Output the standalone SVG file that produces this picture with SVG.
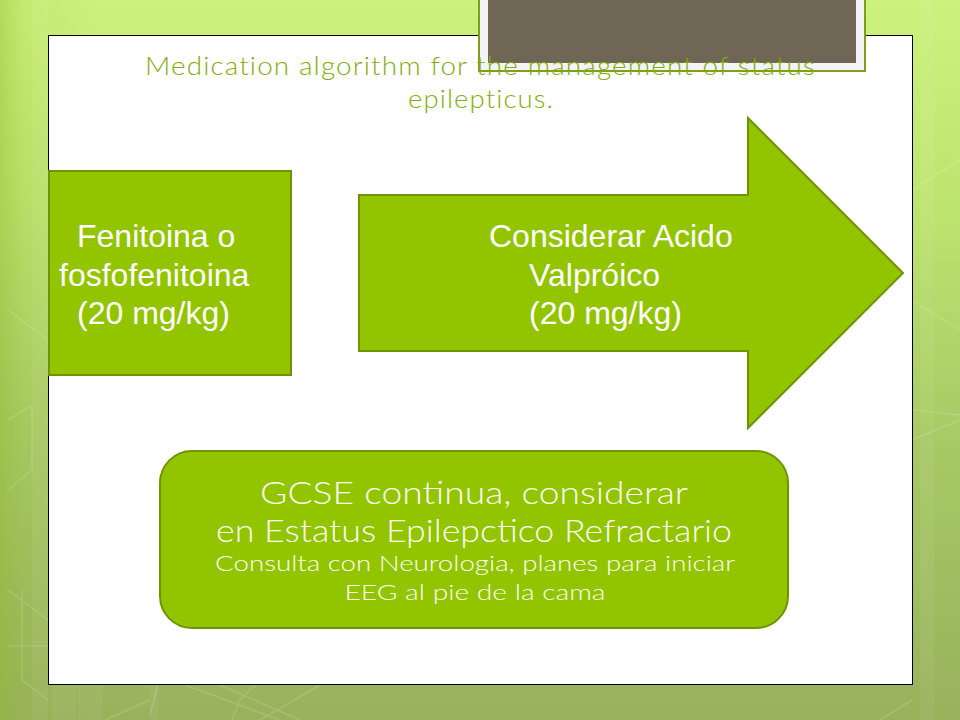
<svg xmlns="http://www.w3.org/2000/svg" width="960" height="720" viewBox="0 0 960 720">
<style>
.s{fill:#93c400;stroke:#6f9400;stroke-width:2}
.h{font-family:"Liberation Sans",Arial,sans-serif;font-size:32px;fill:#fff}
.g{font-family:Lato,"Noto Sans",sans-serif;font-weight:300;fill:#fdfff5}
.t{font-family:Lato,"Noto Sans",sans-serif;font-weight:300;font-size:25px;fill:#82ae08;letter-spacing:1px}
.l{fill:none;stroke:#fff;stroke-opacity:.14;stroke-width:1.5}
.b{fill:#fff;fill-opacity:.05}
</style>
<defs>
<linearGradient id="bg" x1="0" y1="0" x2="0" y2="1">
<stop offset="0" stop-color="#cdf27c"/><stop offset=".3" stop-color="#bde36f"/><stop offset=".6" stop-color="#a9ca66"/><stop offset="1" stop-color="#98b25c"/>
</linearGradient>
<linearGradient id="side" x1="0" y1="0" x2="1" y2="0">
<stop offset="0" stop-color="#8fb52a" stop-opacity=".4"/><stop offset=".025" stop-color="#8fb52a" stop-opacity=".12"/><stop offset=".1" stop-color="#8fb52a" stop-opacity="0"/>
</linearGradient>
</defs>
<g id="background">
<rect width="960" height="720" fill="url(#bg)"/>
<rect width="960" height="720" fill="url(#side)"/>
<rect class="b" x="32" y="0" width="16" height="720"/>
<rect class="b" x="52" y="685" width="24" height="35"/>
<rect class="b" x="78" y="685" width="24" height="35"/>
<rect class="b" x="150" y="685" width="8" height="35"/>
<rect class="b" x="920" y="0" width="14" height="720"/>
<path class="l" d="M8 310L48 340M8 420L32 405V470L8 490M8 646H48M22 590V680L48 700M8 590L48 620M150 715L158 685M150 700L105 720M185 685L280 720M220 685L300 720M255 685L240 700L232 720M320 685L260 720M880 720L912 700M912 300L960 330M912 410L960 415M912 190L960 160M912 440L960 420"/>
</g>
<g id="frame"><rect x="48.5" y="35.5" width="864" height="649" fill="#fff" stroke="#000" stroke-width="1"/></g>
<g id="title-box">
<rect x="479" y="-4" width="386" height="75" fill="#f4f4f8" stroke="#7f9f1a" stroke-width="2"/>
<rect x="488" y="-4" width="368" height="67" fill="#6f6655"/>
</g>
<g id="title">
<text class="t" x="145" y="75" textLength="671" lengthAdjust="spacingAndGlyphs">Medication algorithm for the management of status</text>
<text class="t" x="408" y="108" textLength="146" lengthAdjust="spacingAndGlyphs">epilepticus.</text>
</g>
<g id="connectors"></g>
<g id="node-fenitoina">
<path class="s" d="M49 171H291V375H49Z"/>
<text class="h" x="77" y="247">Fenitoina o</text>
<text class="h" x="59" y="286">fosfofenitoina</text>
<text class="h" x="77" y="324">(20 mg/kg)</text>
</g>
<g id="node-acido">
<path class="s" d="M359 195H748V118L903 273L748 428V351H359Z"/>
<text class="h" x="489" y="247">Considerar Acido</text>
<text class="h" x="529" y="286">Valpróico</text>
<text class="h" x="529" y="324">(20 mg/kg)</text>
</g>
<g id="node-gcse">
<rect class="s" x="160" y="451" width="628" height="177" rx="32" ry="32"/>
<text class="g" x="474" y="504" font-size="32" text-anchor="middle" textLength="428" lengthAdjust="spacingAndGlyphs">GCSE continua,  considerar</text>
<text class="g" x="474" y="542" font-size="32" text-anchor="middle" textLength="516" lengthAdjust="spacingAndGlyphs">en Estatus Epilepctico Refractario</text>
<text class="g" x="475" y="571" font-size="21" text-anchor="middle" textLength="520" lengthAdjust="spacingAndGlyphs">Consulta con Neurologia, planes para iniciar</text>
<text class="g" x="475" y="600" font-size="21" text-anchor="middle" textLength="261" lengthAdjust="spacingAndGlyphs">EEG al pie de la cama</text>
</g>
</svg>
